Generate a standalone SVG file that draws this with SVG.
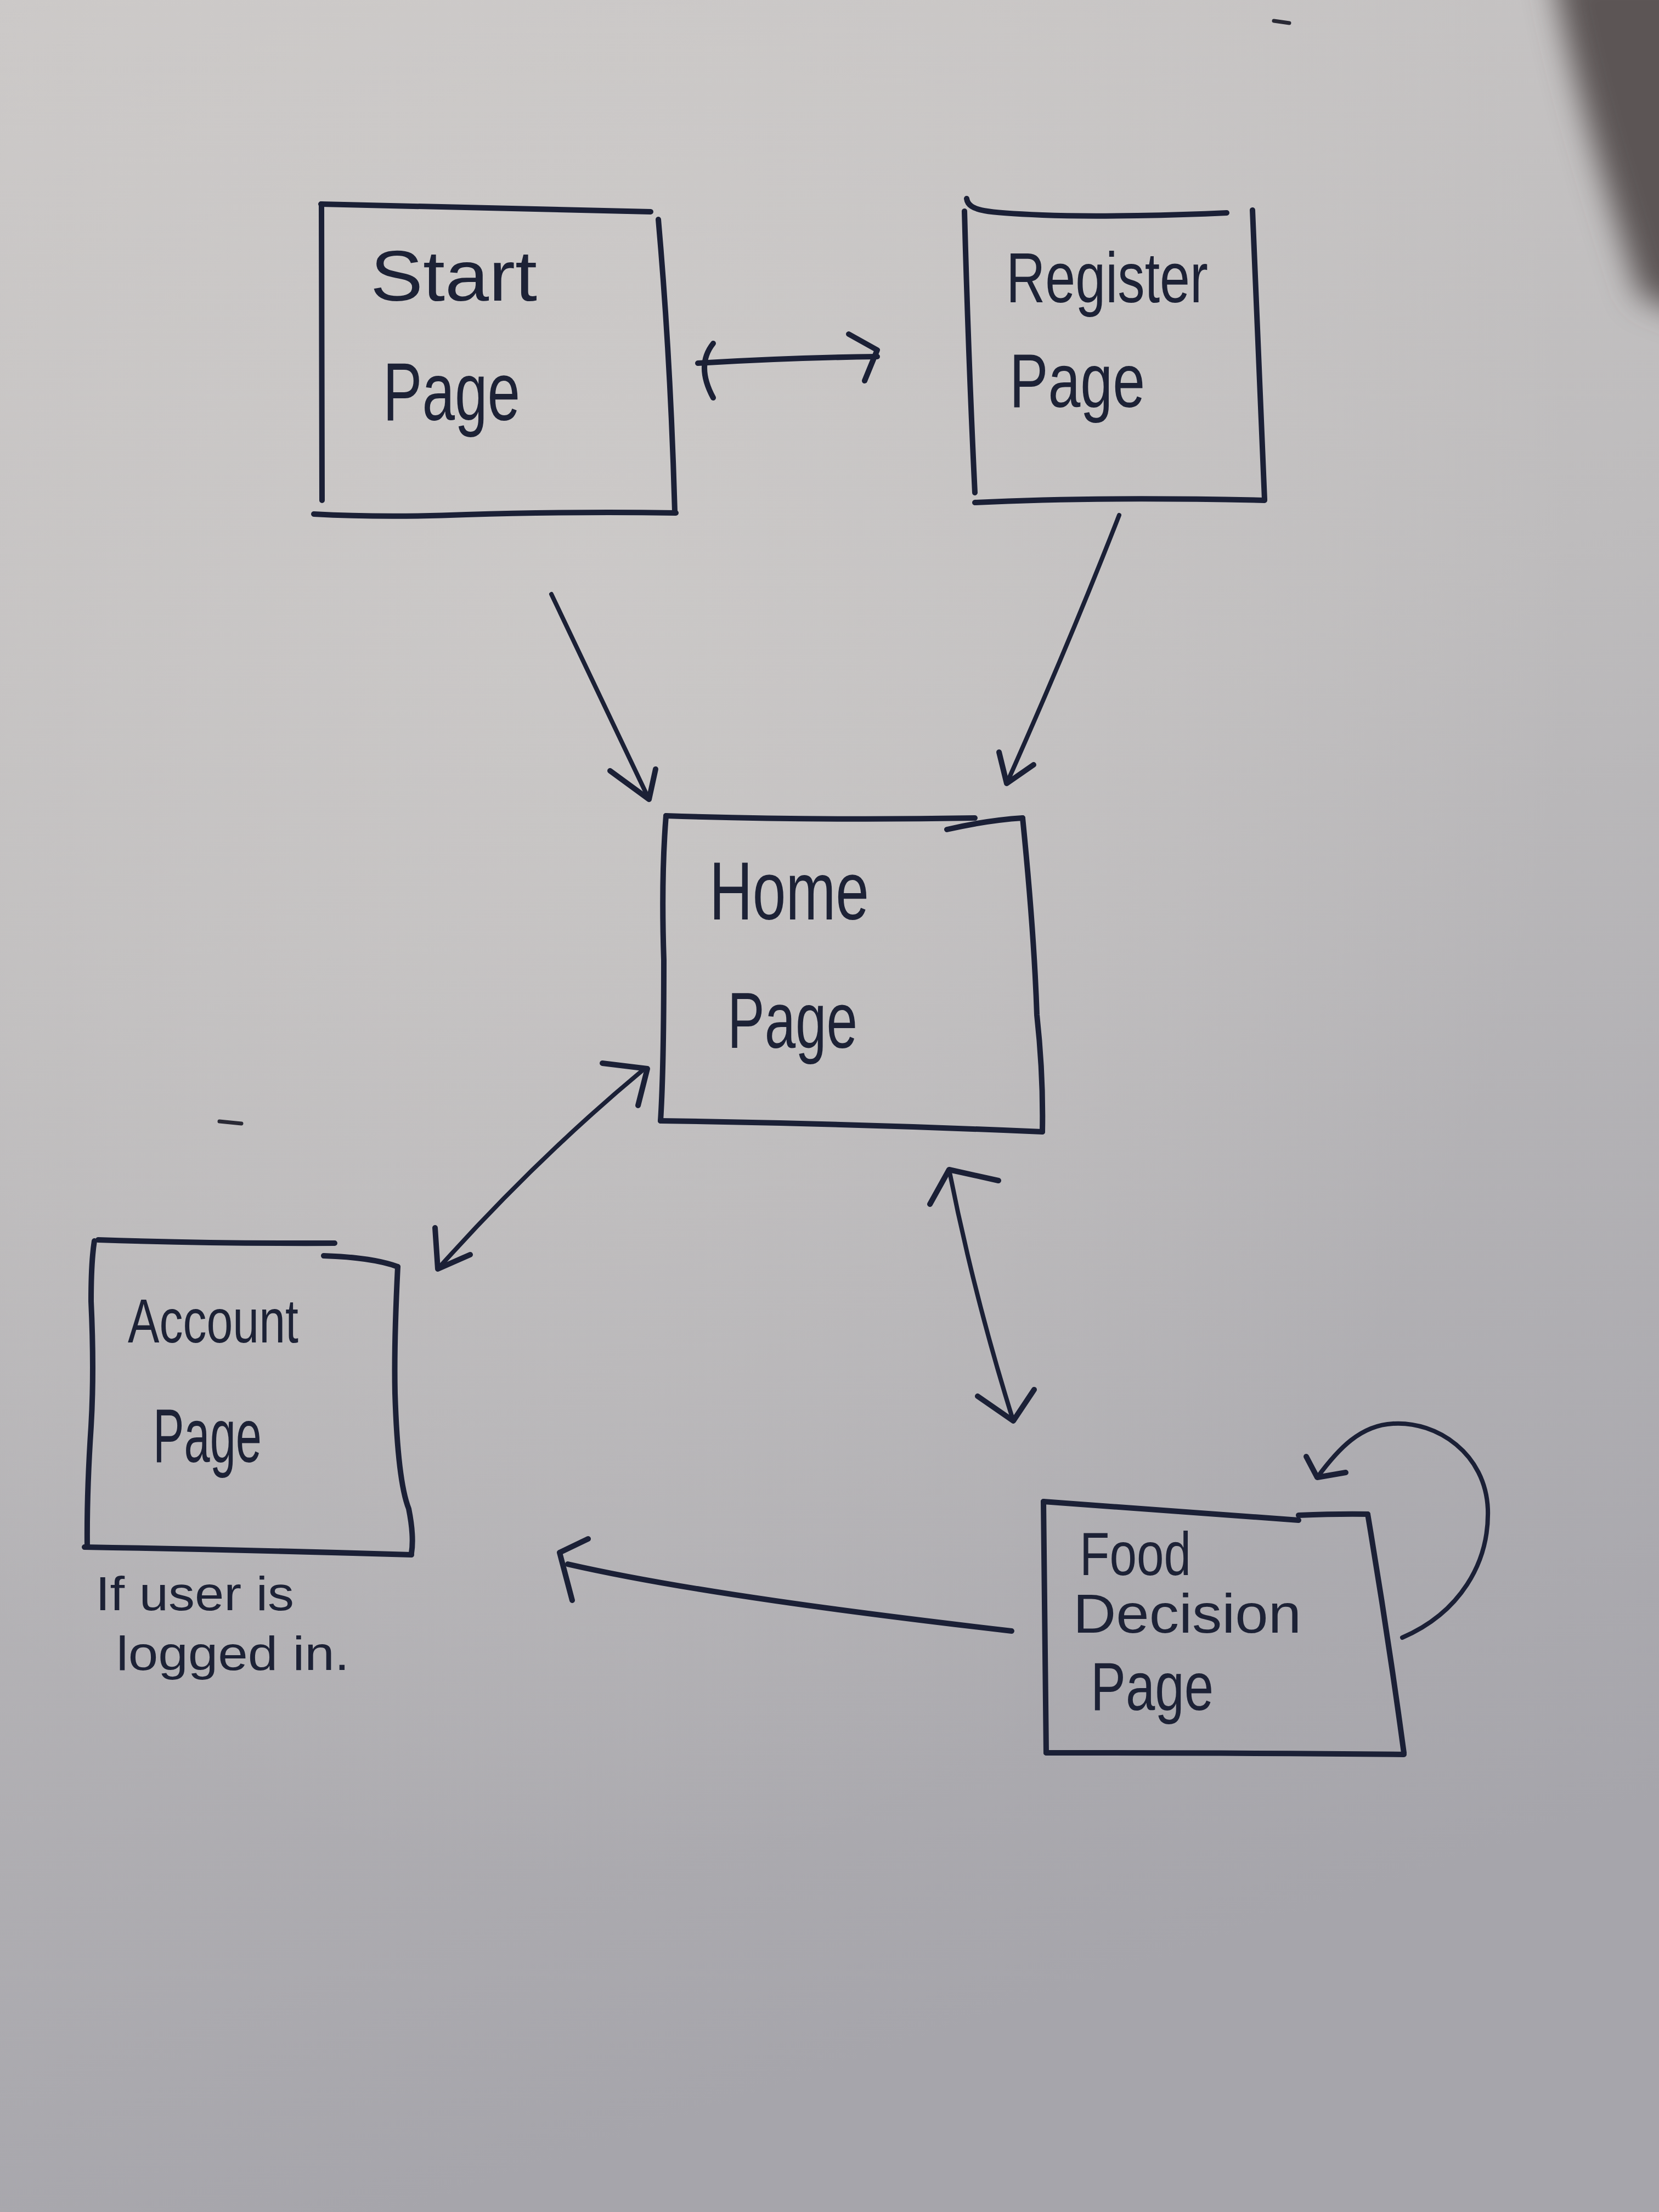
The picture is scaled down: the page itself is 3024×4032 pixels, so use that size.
<svg xmlns="http://www.w3.org/2000/svg" width="3024" height="4032" viewBox="0 0 3024 4032">
<defs>
<linearGradient id="paper" x1="0" y1="0" x2="0.25" y2="1">
<stop offset="0" stop-color="#cbc8c7"/>
<stop offset="0.45" stop-color="#bebcbd"/>
<stop offset="1" stop-color="#a6a5ab"/>
</linearGradient>
<radialGradient id="glow" cx="0.35" cy="0.25" r="0.6">
<stop offset="0" stop-color="#d2cfcd" stop-opacity="0.6"/>
<stop offset="1" stop-color="#d2cfcd" stop-opacity="0"/>
</radialGradient>
<filter id="blur" x="-0.5" y="-0.5" width="2" height="2"><feGaussianBlur stdDeviation="28"/></filter>
<style>
.ink{fill:none;stroke:#1b2036;stroke-width:10;stroke-linecap:round;stroke-linejoin:round}
.thin{stroke-width:8}
.lbl{font-family:"Liberation Sans","DejaVu Sans",sans-serif;fill:#1d2236}
</style>
</defs>
<rect width="3024" height="4032" fill="url(#paper)"/>
<rect width="3024" height="4032" fill="url(#glow)"/>
<path d="M2830,-60 C2860,120 2920,320 2990,540 L3100,580 L3100,-60 Z" fill="#5c5454" filter="url(#blur)"/>
<path d="M2322,38 L2350,42" stroke="#2a2a35" stroke-width="7" stroke-linecap="round"/>
<path d="M400,2044 L440,2048" stroke="#2a2a35" stroke-width="7" stroke-linecap="round"/>

<g id="start-page">
<path class="ink" d="M585,372 Q880,378 1186,386"/>
<path class="ink" d="M1200,400 Q1222,650 1230,932"/>
<path class="ink" d="M586,372 L587,912"/>
<path class="ink" d="M572,937 Q700,944 850,938 Q1050,932 1232,935"/>
<text class="lbl" x="675" y="548" font-size="130" textLength="304" lengthAdjust="spacingAndGlyphs">Start</text>
<text class="lbl" x="698" y="766" font-size="150" textLength="250" lengthAdjust="spacingAndGlyphs">Page</text>
</g>

<g id="register-page">
<path class="ink" d="M1762,362 C1765,385 1800,388 1900,392 S2150,392 2236,388"/>
<path class="ink" d="M2283,383 L2305,910"/>
<path class="ink" d="M1758,385 Q1765,650 1777,898"/>
<path class="ink" d="M1777,916 Q2000,905 2305,912"/>
<text class="lbl" x="1834" y="551" font-size="130" textLength="368" lengthAdjust="spacingAndGlyphs">Register</text>
<text class="lbl" x="1840" y="742" font-size="140" textLength="247" lengthAdjust="spacingAndGlyphs">Page</text>
</g>

<g id="home-page">
<path class="ink" d="M1214,1487 Q1500,1496 1777,1491"/>
<path class="ink" d="M1726,1512 Q1800,1495 1864,1491"/>
<path class="ink" d="M1864,1491 Q1885,1700 1890,1850 Q1902,1960 1900,2063"/>
<path class="ink" d="M1214,1487 Q1205,1600 1210,1750 Q1210,1950 1204,2043"/>
<path class="ink" d="M1204,2043 Q1550,2048 1900,2063"/>
<text class="lbl" x="1293" y="1676" font-size="150" textLength="291" lengthAdjust="spacingAndGlyphs">Home</text>
<text class="lbl" x="1326" y="1910" font-size="145" textLength="237" lengthAdjust="spacingAndGlyphs">Page</text>
</g>

<g id="account-page">
<path class="ink" d="M179,2260 Q400,2267 610,2266"/>
<path class="ink" d="M590,2289 Q680,2292 725,2309"/>
<path class="ink" d="M725,2309 Q718,2450 720,2540 Q725,2700 745,2750 Q755,2800 750,2831"/>
<path class="ink" d="M172,2262 Q166,2300 166,2372 Q172,2500 166,2600 Q158,2720 159,2820"/>
<path class="ink" d="M154,2820 Q450,2825 750,2834"/>
<text class="lbl" x="233" y="2447" font-size="113" textLength="311" lengthAdjust="spacingAndGlyphs">Account</text>
<text class="lbl" x="279" y="2665" font-size="140" textLength="198" lengthAdjust="spacingAndGlyphs">Page</text>
<text class="lbl" x="174" y="2935" font-size="88" textLength="362" lengthAdjust="spacingAndGlyphs">If user is</text>
<text class="lbl" x="212" y="3044" font-size="88" textLength="425" lengthAdjust="spacingAndGlyphs">logged in.</text>
</g>

<g id="food-decision-page">
<path class="ink" d="M1902,2737 Q2150,2755 2367,2771"/>
<path class="ink" d="M2367,2762 Q2440,2759 2493,2760"/>
<path class="ink" d="M2493,2760 Q2530,2980 2559,3195"/>
<path class="ink" d="M1902,2737 Q1905,2950 1907,3195"/>
<path class="ink" d="M1907,3195 Q2250,3195 2559,3198"/>
<text class="lbl" x="1968" y="2871" font-size="112" textLength="203" lengthAdjust="spacingAndGlyphs">Food</text>
<text class="lbl" x="1956" y="2976" font-size="100" textLength="416" lengthAdjust="spacingAndGlyphs">Decision</text>
<text class="lbl" x="1988" y="3117" font-size="125" textLength="224" lengthAdjust="spacingAndGlyphs">Page</text>
</g>

<g id="connectors">
<!-- Start <-> Register -->
<path class="ink" d="M1272,662 Q1440,652 1599,650"/>
<path class="ink" d="M1300,626 Q1268,666 1300,725"/>
<path class="ink" d="M1547,609 L1599,638 L1576,694"/>
<!-- Start -> Home -->
<path class="ink thin" d="M1005,1083 L1183,1457"/>
<path class="ink" d="M1112,1405 L1183,1457 L1195,1402"/>
<!-- Register -> Home -->
<path class="ink thin" d="M2040,939 Q1950,1170 1835,1428"/>
<path class="ink" d="M1821,1371 L1835,1428 L1884,1394"/>
<!-- Home <-> Account -->
<path class="ink thin" d="M1170,1952 Q980,2110 798,2313"/>
<path class="ink" d="M1098,1938 L1180,1948 L1163,2015"/>
<path class="ink" d="M793,2238 L798,2313 L857,2287"/>
<!-- Home <-> Food -->
<path class="ink thin" d="M1730,2132 Q1775,2360 1847,2590"/>
<path class="ink" d="M1695,2195 L1730,2132 L1820,2152"/>
<path class="ink" d="M1782,2545 L1847,2590 L1885,2533"/>
<!-- Food -> Account -->
<path class="ink" d="M1844,2973 C1560,2940 1250,2900 1035,2851"/>
<path class="ink" d="M1043,2917 L1020,2830 L1072,2805"/>
<!-- Food self loop -->
<path class="ink thin" d="M2556,2985 C2660,2940 2715,2850 2712,2751 C2708,2650 2620,2590 2539,2595 C2480,2598 2440,2640 2401,2693"/>
<path class="ink" d="M2381,2655 L2401,2693 L2453,2684"/>
</g>
</svg>
